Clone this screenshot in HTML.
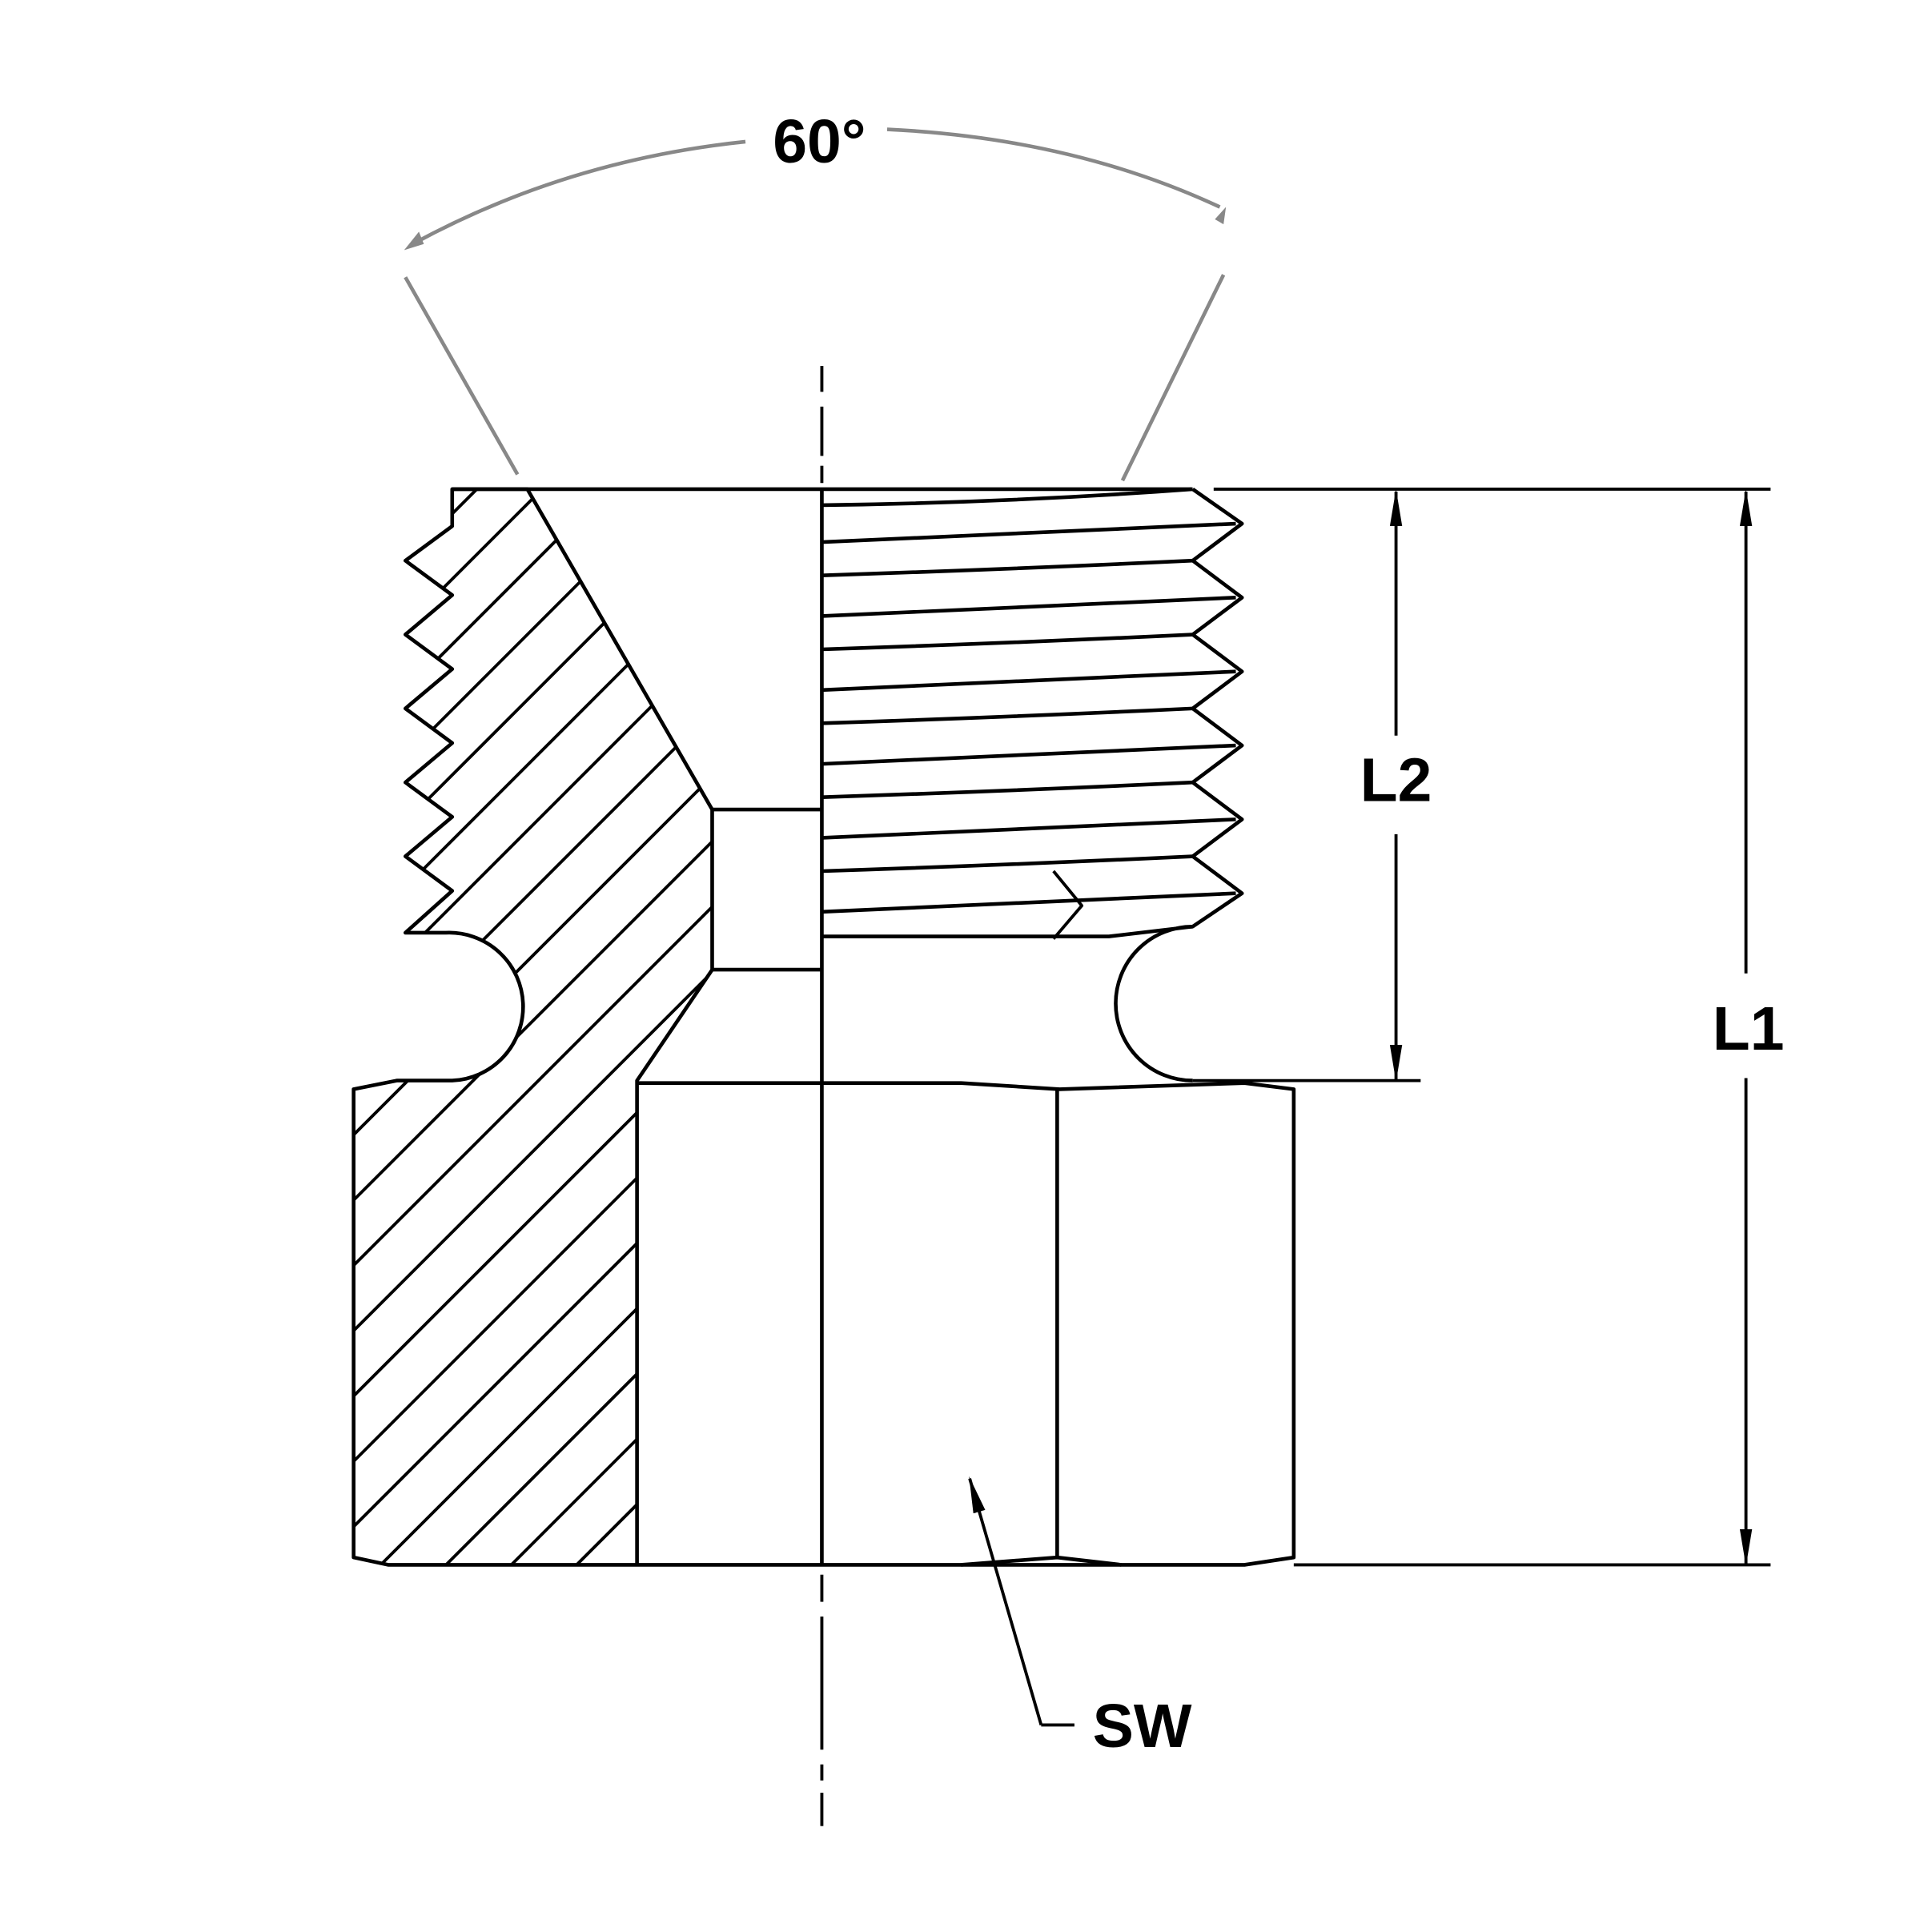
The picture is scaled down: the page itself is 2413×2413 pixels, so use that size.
<!DOCTYPE html>
<html><head><style>html,body{margin:0;padding:0;background:#fff}svg{display:block}</style></head>
<body>
<svg width="2413" height="2413" viewBox="0 0 1568 1568" xmlns="http://www.w3.org/2000/svg">
<defs>
<clipPath id="hc">
<path d="M367,397 L428,397 L578,657 L578,787 L517,877 L517,1270 L315,1270 L287,1264 L287,884 L322,877 L367,877 A60,60 0 0 0 362,757 L329,757 L367,723 L329,695 L367,663 L329,635 L367,603 L329,575 L367,543 L329,515 L367,483 L329,455 L367,427 Z"/>
</clipPath>
<marker id="ab" markerWidth="30" markerHeight="12" refX="28" refY="6" orient="auto" markerUnits="userSpaceOnUse" viewBox="0 0 30 12"><path d="M0,1 L30,6 L0,11 Z" fill="#000"/></marker>
<marker id="as" markerWidth="30" markerHeight="12" refX="2" refY="6" orient="auto" markerUnits="userSpaceOnUse" viewBox="0 0 30 12"><path d="M30,1 L0,6 L30,11 Z" fill="#000"/></marker>
</defs>
<g fill="none" stroke="#000" stroke-width="3" stroke-linejoin="round">
<g clip-path="url(#hc)" stroke-width="2.5">
<line x1="200" y1="584" x2="484" y2="300"/>
<line x1="200" y1="637" x2="537" y2="300"/>
<line x1="200" y1="690" x2="590" y2="300"/>
<line x1="200" y1="743" x2="643" y2="300"/>
<line x1="200" y1="796" x2="696" y2="300"/>
<line x1="200" y1="849" x2="749" y2="300"/>
<line x1="200" y1="902" x2="802" y2="300"/>
<line x1="200" y1="955" x2="855" y2="300"/>
<line x1="200" y1="1008" x2="908" y2="300"/>
<line x1="200" y1="1061" x2="961" y2="300"/>
<line x1="200" y1="1114" x2="1014" y2="300"/>
<line x1="200" y1="1167" x2="1067" y2="300"/>
<line x1="200" y1="1220" x2="1120" y2="300"/>
<line x1="200" y1="1273" x2="1173" y2="300"/>
<line x1="200" y1="1326" x2="1226" y2="300"/>
<line x1="200" y1="1379" x2="1279" y2="300"/>
<line x1="200" y1="1432" x2="1332" y2="300"/>
<line x1="200" y1="1485" x2="1385" y2="300"/>
<line x1="200" y1="1538" x2="1438" y2="300"/>
<line x1="200" y1="1591" x2="1491" y2="300"/>
</g>
<path d="M367,397 L428,397 L578,657 L578,787 L517,877 L517,1270"/>
<path d="M967,397 L367,397 L367,427 L329,455 L367,483 L329,515 L367,543 L329,575 L367,603 L329,635 L367,663 L329,695 L367,723 L329,757 L362,757 A60,60 0 0 1 367,877 L322,877 L287,884 L287,1264 L315,1270 L1010,1270 L1050,1264 L1050,884 L1010,879 L860,884 L780,879 L517,879"/>
<line x1="858" y1="884" x2="858" y2="1264"/>
<path d="M780,1270 L858,1264 L910,1270"/>
<line x1="578" y1="657" x2="667" y2="657"/>
<line x1="578" y1="787" x2="667" y2="787"/>
<line x1="667" y1="397" x2="667" y2="1270"/>
<path d="M968,397 L1008,425 L968,455 L1008,485 L968,515 L1008,545 L968,575 L1008,605 L968,635 L1008,665 L968,695 L1008,725 L968,752 A60,60 0 0 0 968,877"/>
<path d="M667,410 Q820,408 968,397"/>
<path d="M667,440 L1003,425"/><path d="M667,467 Q820,462 968,455"/>
<path d="M667,500 L1003,485"/><path d="M667,527 Q820,522 968,515"/>
<path d="M667,560 L1003,545"/><path d="M667,587 Q820,582 968,575"/>
<path d="M667,620 L1003,605"/><path d="M667,647 Q820,642 968,635"/>
<path d="M667,680 L1003,665"/><path d="M667,707 Q820,702 968,695"/>
<path d="M667,740 L1003,725"/><path d="M667,760 L900,760 L968,752"/>
<path d="M855,707 L878,735 L855,762" stroke-width="2.5"/>
<line x1="968" y1="877" x2="1153" y2="877" stroke-width="2.5"/>
<line x1="985" y1="397" x2="1437" y2="397" stroke-width="2.5"/>
<line x1="1050" y1="1270" x2="1437" y2="1270" stroke-width="2.5"/>
<g stroke-width="2.5">
<line x1="667" y1="297" x2="667" y2="318"/><line x1="667" y1="330" x2="667" y2="370"/><line x1="667" y1="378" x2="667" y2="392"/>
<line x1="667" y1="1278" x2="667" y2="1300"/><line x1="667" y1="1312" x2="667" y2="1420"/><line x1="667" y1="1432" x2="667" y2="1445"/><line x1="667" y1="1455" x2="667" y2="1482"/>
</g>
<g stroke-width="2.5">
<line x1="1133" y1="399" x2="1133" y2="597" marker-start="url(#as)"/>
<line x1="1133" y1="677" x2="1133" y2="876" marker-end="url(#ab)"/>
<line x1="1417" y1="399" x2="1417" y2="790" marker-start="url(#as)"/>
<line x1="1417" y1="875" x2="1417" y2="1269" marker-end="url(#ab)"/>
<path d="M845,1400 L787,1200" marker-end="url(#ab)"/>
<path d="M845,1400 L872,1400"/>
</g>
</g>
<g fill="none" stroke="#888" stroke-width="3">
<line x1="420" y1="385" x2="329" y2="225"/>
<line x1="911" y1="390" x2="993" y2="223"/>
<path d="M335,198 Q460,130 605,115"/>
<path d="M720,105 Q870,112 990,168"/>
</g>
<path d="M328,203 L340,188 L344,198 Z" fill="#888"/>
<path d="M995,168 L986,178 L993,182 Z" fill="#888"/>
<g font-family="Liberation Sans, sans-serif" font-weight="bold" fill="#000" font-size="50" text-anchor="middle">
<text x="665" y="132">60°</text>
<text x="1133" y="650">L2</text>
<text x="1419" y="852">L1</text>
<text x="927" y="1418">SW</text>
</g>
</svg>
</body></html>
